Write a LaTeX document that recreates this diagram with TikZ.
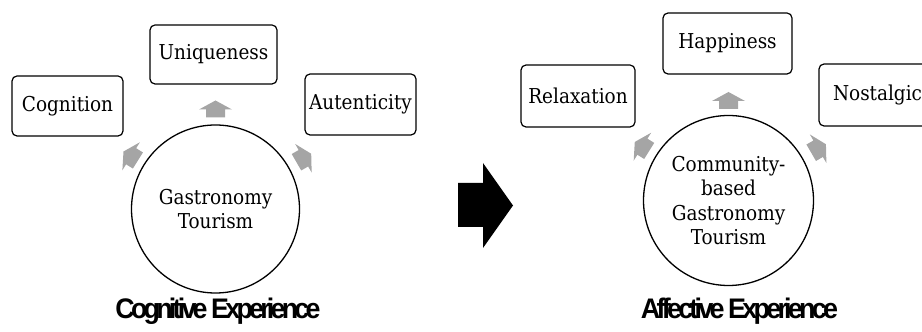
\documentclass[tikz,border=0pt]{standalone}
\usepackage{fontspec}
\usepackage{graphicx}
\setmainfont{DejaVu Serif Condensed}
\newfontfamily\titlefont[LetterSpace=-14]{Liberation Sans Bold}
\usetikzlibrary{calc}
\definecolor{arrowgray}{HTML}{A5A5A5}
\tikzset{
  labelbox/.style={draw, line width=1.2pt, rounded corners=5pt, inner sep=0pt,
    font=\fontsize{20.5}{24}\selectfont, align=center},
  hubcircle/.style={draw, circle, line width=1.3pt, inner sep=0pt,
    font=\fontsize{20.5}{24.5}\selectfont, align=center},
  caption/.style={anchor=base, inner sep=0pt},
  radarrow/.pic={\fill[arrowgray] (-8.5,-9.5) -- (-0.5,-9.5) -- (-0.5,-16.5) -- (8.5,0)
    -- (-0.5,16.5) -- (-0.5,9.5) -- (-8.5,9.5) -- cycle;}
}
\newcommand{\captiontext}[2]{\resizebox{#1}{20.5pt}{\titlefont #2}}
\begin{document}
\begin{tikzpicture}[x=1pt, y=1pt]
\useasboundingbox (0,0) rectangle (922,332);
\begin{scope}
\clip (0,0) rectangle (922,332);

% ---- cognitive side ----
\node[hubcircle, minimum size=168pt] (hubA) at (215.5,123) {Gastronomy\\Tourism};
\node[labelbox, minimum width=111pt, minimum height=60pt] (cog) at (67.5,226) {Cognition};
\node[labelbox, minimum width=127pt, minimum height=59pt] (uni) at (213.5,277.5) {Uniqueness};
\node[labelbox, minimum width=111pt, minimum height=61pt] (aut) at (360.5,227.5) {Autenticity};
\pic[rotate=90]  at ($(hubA.center)+(90:100)$)  {radarrow};
\pic[rotate=148] at ($(hubA.center)+(148:100)$) {radarrow};
\pic[rotate=30]  at ($(hubA.center)+(30:102)$)  {radarrow};
\node[caption] (capA) at (218,13) {\captiontext{205pt}{Cognitive Experience}};

% ---- transition arrow ----
\fill (458,105) -- (483,105) -- (483,84) -- (513,126.5) -- (483,169) -- (483,149)
  -- (458,149) -- cycle;

% ---- affective side ----
\node[hubcircle, minimum size=170pt] (hubB) at (728.5,131.5) {Community-\\based\\Gastronomy\\Tourism};
\node[labelbox, minimum width=114pt, minimum height=62pt] (rel) at (578,236) {Relaxation};
\node[labelbox, minimum width=129pt, minimum height=61pt] (hap) at (727.5,288.5) {Happiness};
\node[labelbox, minimum width=114pt, minimum height=62pt, text width=86pt, align=left] (nos) at (876,237) {Nostalgic};
\pic[rotate=90]  at ($(hubB.center)+(90:100)$)  {radarrow};
\pic[rotate=148] at ($(hubB.center)+(148:102)$) {radarrow};
\pic[rotate=30]  at ($(hubB.center)+(30:104)$)  {radarrow};
\node[caption] (capB) at (739.5,13) {\captiontext{197pt}{Affective Experience}};
\end{scope}
\end{tikzpicture}
\end{document}
